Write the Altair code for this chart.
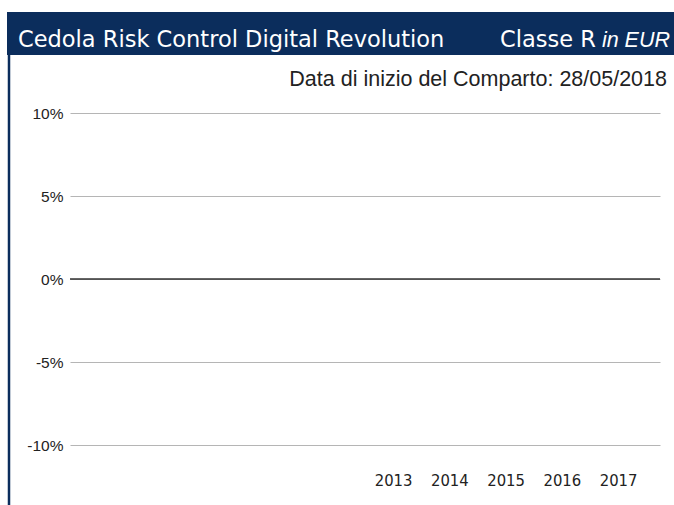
import altair as alt
import pandas as pd

years = ["2008", "2009", "2010", "2011", "2012", "2013", "2014", "2015", "2016", "2017"]
returns = [None] * 10
shown_years = ["2013", "2014", "2015", "2016", "2017"]
y_ticks = [-10, -5, 0, 5, 10]

title_main = "Cedola Risk Control Digital Revolution"
title_class = "Classe R"
title_ccy = "in EUR"
subtitle = "Data di inizio del Comparto: 28/05/2018"

NAVY = "#0b2d5c"

df = pd.DataFrame({"year": years, "ret": returns})
one = pd.DataFrame({"k": [0]})

x = alt.X("year:N", scale=alt.Scale(domain=years, type="point", padding=0.745),
          axis=alt.Axis(title=None, domain=False, ticks=False, grid=False, labelAngle=0,
                        labelPadding=27, labelFont="DejaVu Sans Condensed", labelFontSize=16.5, labelColor="#222",
                        labelExpr="indexof(%s, datum.value) >= 0 ? datum.value : ''" % str(shown_years)))
y = alt.Y("ret:Q", scale=alt.Scale(domain=[-10, 10], nice=False),
          axis=alt.Axis(title=None, values=y_ticks, domain=False, ticks=False, grid=True,
                        gridColor="#b5b5b5", gridWidth=1, labelPadding=7, labelFont="Liberation Sans",
                        labelFontSize=15.5, labelColor="#222", labelExpr="datum.value + '%'"))

bars = alt.Chart(df).mark_bar(color=NAVY).encode(x=x, y=y)

zero = alt.Chart(one).mark_rule(color="#333", strokeWidth=1.3).encode(
    x=alt.value(0), x2=alt.value(590), y=alt.value(166))

header = alt.Chart(one).mark_rect(color=NAVY).encode(
    x=alt.value(-63), x2=alt.value(604), y=alt.value(-101), y2=alt.value(-58))

leftline = alt.Chart(one).mark_rule(color=NAVY, strokeWidth=2.5).encode(
    x=alt.value(-61), y=alt.value(-58), y2=alt.value(392))

t1 = alt.Chart(one).mark_text(text=title_main, color="white", font="DejaVu Sans", fontSize=22.5,
                              align="left", baseline="alphabetic").encode(x=alt.value(-52), y=alt.value(-66))
t2 = alt.Chart(one).mark_text(text=title_class, color="white", font="DejaVu Sans", fontSize=22.5,
                              align="left", baseline="alphabetic").encode(x=alt.value(430), y=alt.value(-66))
t3 = alt.Chart(one).mark_text(text=title_ccy, color="white", font="Liberation Sans", fontSize=21.5,
                              fontStyle="italic", align="right", baseline="alphabetic").encode(
    x=alt.value(600), y=alt.value(-66))
sub = alt.Chart(one).mark_text(text=subtitle, color="#222", font="Liberation Sans", fontSize=21.5,
                               align="right", baseline="alphabetic").encode(x=alt.value(597), y=alt.value(-27))

chart = alt.layer(bars, zero, header, leftline, t1, t2, t3, sub).properties(
    width=590, height=332,
    background="white",
    autosize=alt.AutoSizeParams(type="none"),
    padding={"left": 70, "top": 113, "right": 14, "bottom": 60},
).configure_view(strokeWidth=0, stroke=None)

chart.save("out.html", embed_options={"renderer": "svg", "actions": False})
